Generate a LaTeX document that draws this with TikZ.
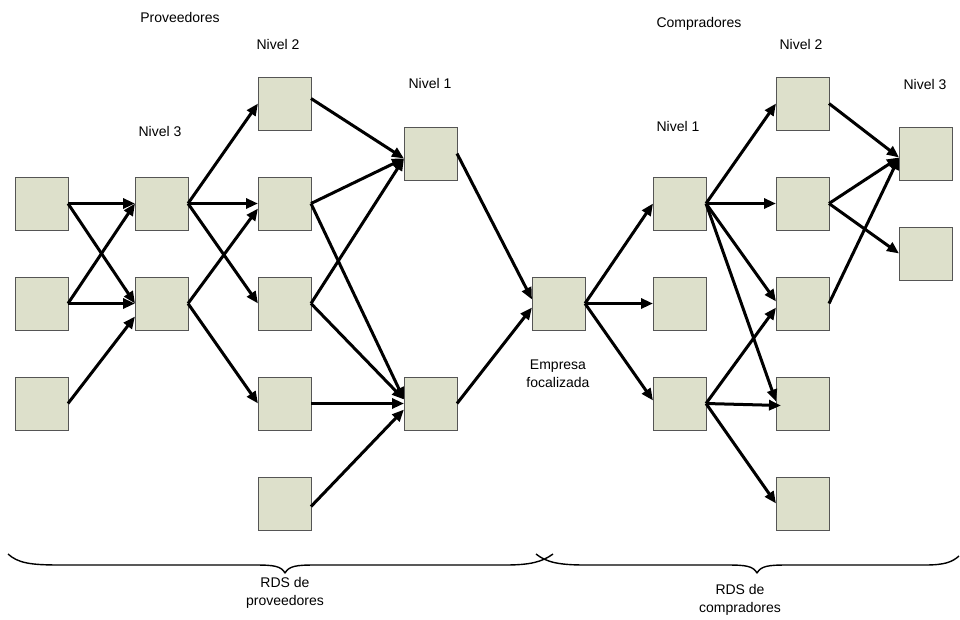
\documentclass[tikz,border=0pt]{standalone}
\usepackage{fontspec}
\setmainfont{Liberation Sans}
\usetikzlibrary{arrows.meta,calc}
\definecolor{boxfill}{HTML}{DDE0CB}
\definecolor{boxline}{HTML}{555555}
\begin{document}
\begin{tikzpicture}[x=1pt,y=-1pt,
  unit/.style={draw=boxline, fill=boxfill, line width=1pt, minimum size=53pt, inner sep=0pt, outer sep=0pt},
  link/.style={line width=3pt, -{Triangle[length=12pt,width=10pt]}},
  lbl/.style={font=\fontsize{14}{18}\selectfont, inner sep=0pt, align=center},
  bracket/.style={line width=1.4pt, line join=round}]
\useasboundingbox (0,0) rectangle (960,619);

% supplier tiers
\node[unit] (A1) at (41.5,203.5) {};
\node[unit] (A2) at (41.5,303.5) {};
\node[unit] (A3) at (41.5,403.5) {};
\node[unit] (B1) at (161.5,203.5) {};
\node[unit] (B2) at (161.5,303.5) {};
\node[unit] (C1) at (284.5,103.5) {};
\node[unit] (C2) at (284.5,203.5) {};
\node[unit] (C3) at (284.5,303.5) {};
\node[unit] (C4) at (284.5,403.5) {};
\node[unit] (C5) at (284.5,503.5) {};
\node[unit] (D1) at (430.5,153.5) {};
\node[unit] (D2) at (430.5,403.5) {};
% focal company
\node[unit] (E) at (558.5,303.5) {};
% customer tiers
\node[unit] (F1) at (679.5,203.5) {};
\node[unit] (F2) at (679.5,303.5) {};
\node[unit] (F3) at (679.5,403.5) {};
\node[unit] (G1) at (802.5,103.5) {};
\node[unit] (G2) at (802.5,203.5) {};
\node[unit] (G3) at (802.5,303.5) {};
\node[unit] (G4) at (802.5,403.5) {};
\node[unit] (G5) at (802.5,503.5) {};
\node[unit] (H1) at (925.5,153.5) {};
\node[unit] (H2) at (925.5,253.5) {};

% flows, supplier side
\draw[link] (A1.east) -- (B1.west);
\draw[link] (A1.east) -- (B2.west);
\draw[link] (A2.east) -- (B1.west);
\draw[link] (A2.east) -- (B2.west);
\draw[link] (A3.east) -- ($(B2.west)+(0,13)$);
\draw[link] (B1.east) -- (C1.west);
\draw[link] (B1.east) -- (C2.west);
\draw[link] (B1.east) -- (C3.west);
\draw[link] (B2.east) -- ($(C2.west)+(0,5)$);
\draw[link] (B2.east) -- (C4.west);
\draw[link] ($(C1.east)+(0,-5)$) -- ($(D1.west)+(0,5)$);
\draw[link] (C2.east) -- ($(D1.west)+(0,5)$);
\draw[link] (C3.east) -- ($(D1.west)+(0,5)$);
\draw[link] (C2.east) -- ($(D2.west)+(0,-4)$);
\draw[link] (C3.east) -- ($(D2.west)+(0,-4)$);
\draw[link] (C4.east) -- (D2.west);
\draw[link] ($(C5.east)+(0,3)$) -- ($(D2.west)+(0,6)$);
\draw[link] (D1.east) -- ($(E.west)+(0,-4)$);
\draw[link] (D2.east) -- ($(E.west)+(0,4)$);

% flows, customer side
\draw[link] (E.east) -- (F1.west);
\draw[link] (E.east) -- (F2.west);
\draw[link] (E.east) -- ($(F3.west)+(0,-3)$);
\draw[link] (F1.east) -- (G1.west);
\draw[link] (F1.east) -- (G2.west);
\draw[link] (F1.east) -- ($(G3.west)+(0,-2)$);
\draw[link] (F1.east) -- ($(G4.west)+(0,-2)$);
\draw[link] (F3.east) -- ($(G3.west)+(0,4)$);
\draw[link] (F3.east) -- ($(G4.west)+(5,2)$);
\draw[link] (F3.east) -- (G5.west);
\draw[link] (G1.east) -- ($(H1.west)+(0,4)$);
\draw[link] (G2.east) -- ($(H1.west)+(0,4)$);
\draw[link] (G2.east) -- (H2.west);
\draw[link] (G3.east) -- ($(H1.west)+(0,4)$);

% headings
\node[lbl] (tprov) at (180,17) {Proveedores};
\node[lbl] (tn2a) at (278,44) {Nivel 2};
\node[lbl] (tn1a) at (430,83) {Nivel 1};
\node[lbl] (tn3a) at (160,131) {Nivel 3};
\node[lbl] (tcomp) at (699,24) {Compradores};
\node[lbl] (tn2b) at (801,44) {Nivel 2};
\node[lbl] (tn1b) at (678,126) {Nivel 1};
\node[lbl] (tn3b) at (925,84) {Nivel 3};
\node[lbl] (tfoc) at (558,374) {Empresa\\focalizada};

% braces grouping the two networks
\draw[bracket] (8,554) .. controls (18,563) and (30,565) .. (60,565)
  -- (255,565) .. controls (274,565) and (281,566) .. (285,573)
  .. controls (289,566) and (296,565) .. (315,565)
  -- (505,565) .. controls (530,565) and (542,562) .. (553,554);
\draw[bracket] (536,554) .. controls (546,562) and (558,565) .. (585,565)
  -- (727,565) .. controls (746,565) and (753,566) .. (757,573)
  .. controls (761,566) and (768,565) .. (787,565)
  -- (925,565) .. controls (945,565) and (952,562) .. (959,556);

\node[lbl] (rprov) at (285,593) {RDS de\\proveedores};
\node[lbl] (rcomp) at (740,600) {RDS de\\compradores};
\end{tikzpicture}
\end{document}
